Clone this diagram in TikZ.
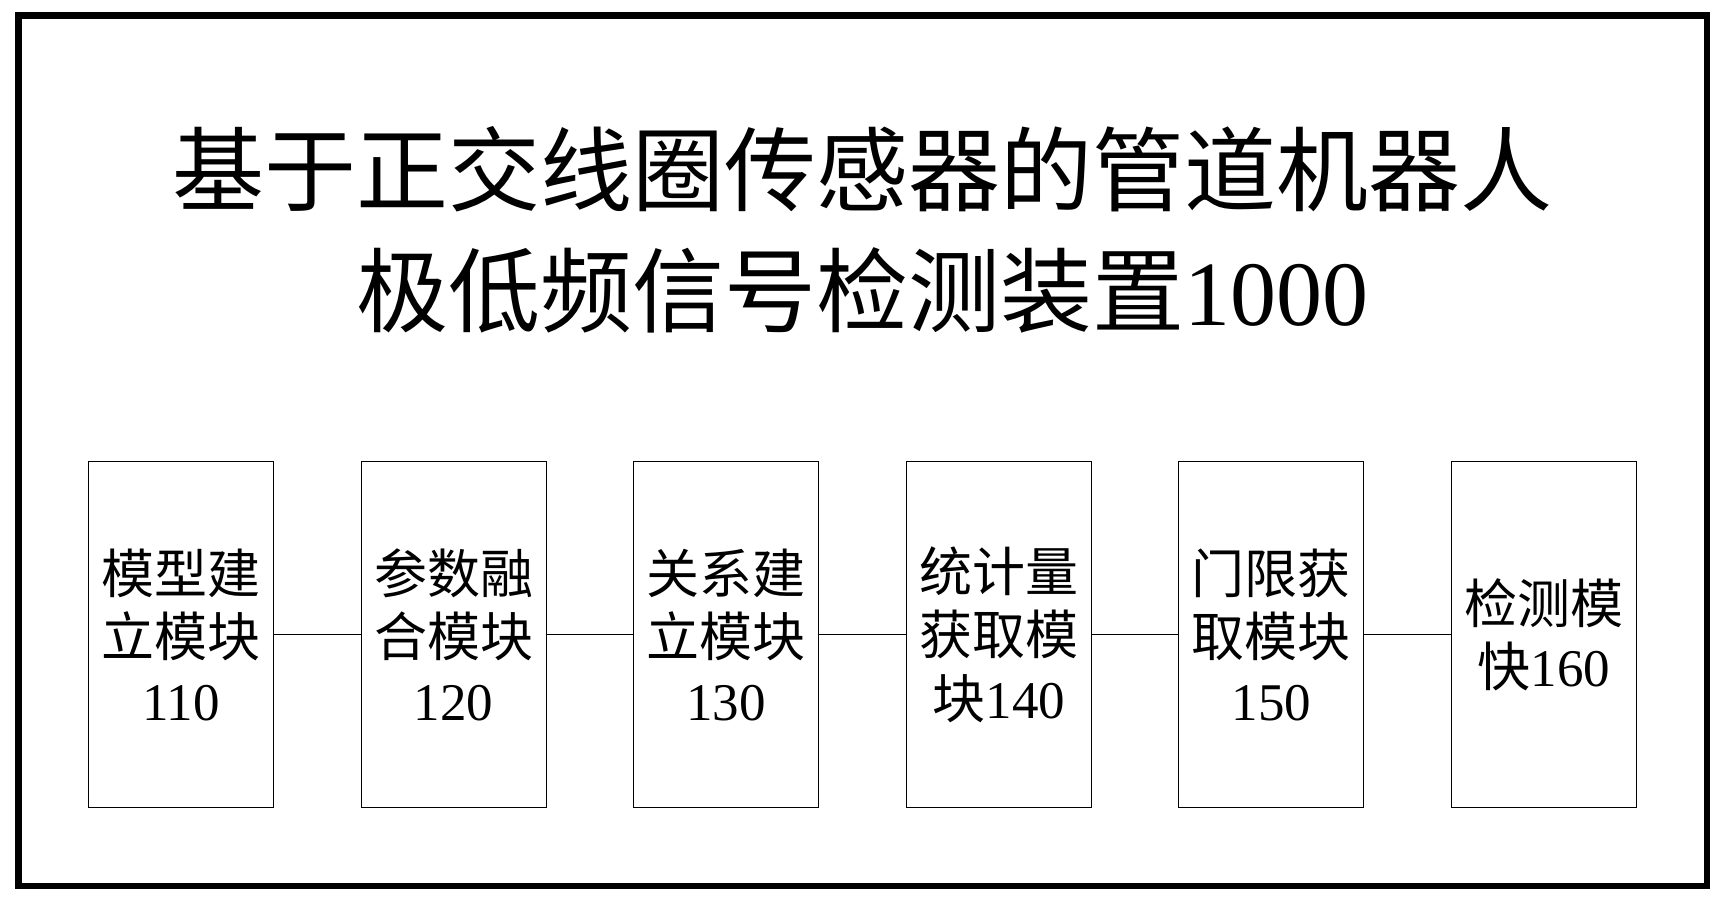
\documentclass[tikz,border=0pt]{standalone}
\usepackage{fontspec}
\setmainfont{Liberation Serif}
\newfontfamily\cjk{Noto Sans CJK SC}
\tikzset{
  module/.style={draw, line width=0.5pt, minimum width=92.5pt, minimum height=173pt,
    align=center, inner sep=0pt, font=\fontsize{26.5}{31.8}\selectfont},
  link/.style={line width=0.5pt}
}
\begin{document}
\begin{tikzpicture}[x=0.5pt,y=-0.5pt]
    \useasboundingbox (0,0) rectangle (1723,902);
    % outer frame
    \draw [line width=3.25pt] (18.5,15.5) rectangle (1707,886);
    \node (title) at (862,230) [align=center, font=\fontsize{46}{60.5}\selectfont]
      {{\cjk 基于正交线圈传感器的管道机器人}\\{\cjk 极低频信号检测装置}1000};
    % modules
    \node (m110) at (181,634.6) [module] {{\cjk 模型建}\\{\cjk 立模块}\\110};
    \node (m120) at (453.6,634.6) [module] {{\cjk 参数融}\\{\cjk 合模块}\\120};
    \node (m130) at (726.2,634.6) [module] {{\cjk 关系建}\\{\cjk 立模块}\\130};
    \node (m140) at (998.8,634.6) [module] {{\cjk 统计量}\\{\cjk 获取模}\\{\cjk 块}140};
    \node (m150) at (1271.4,634.6) [module] {{\cjk 门限获}\\{\cjk 取模块}\\150};
    \node (m160) at (1544,634.6) [module] {{\cjk 检测模}\\{\cjk 快}160};
    % links
    \draw [link] (m110) -- (m120);
    \draw [link] (m120) -- (m130);
    \draw [link] (m130) -- (m140);
    \draw [link] (m140) -- (m150);
    \draw [link] (m150) -- (m160);
\end{tikzpicture}
\end{document}
